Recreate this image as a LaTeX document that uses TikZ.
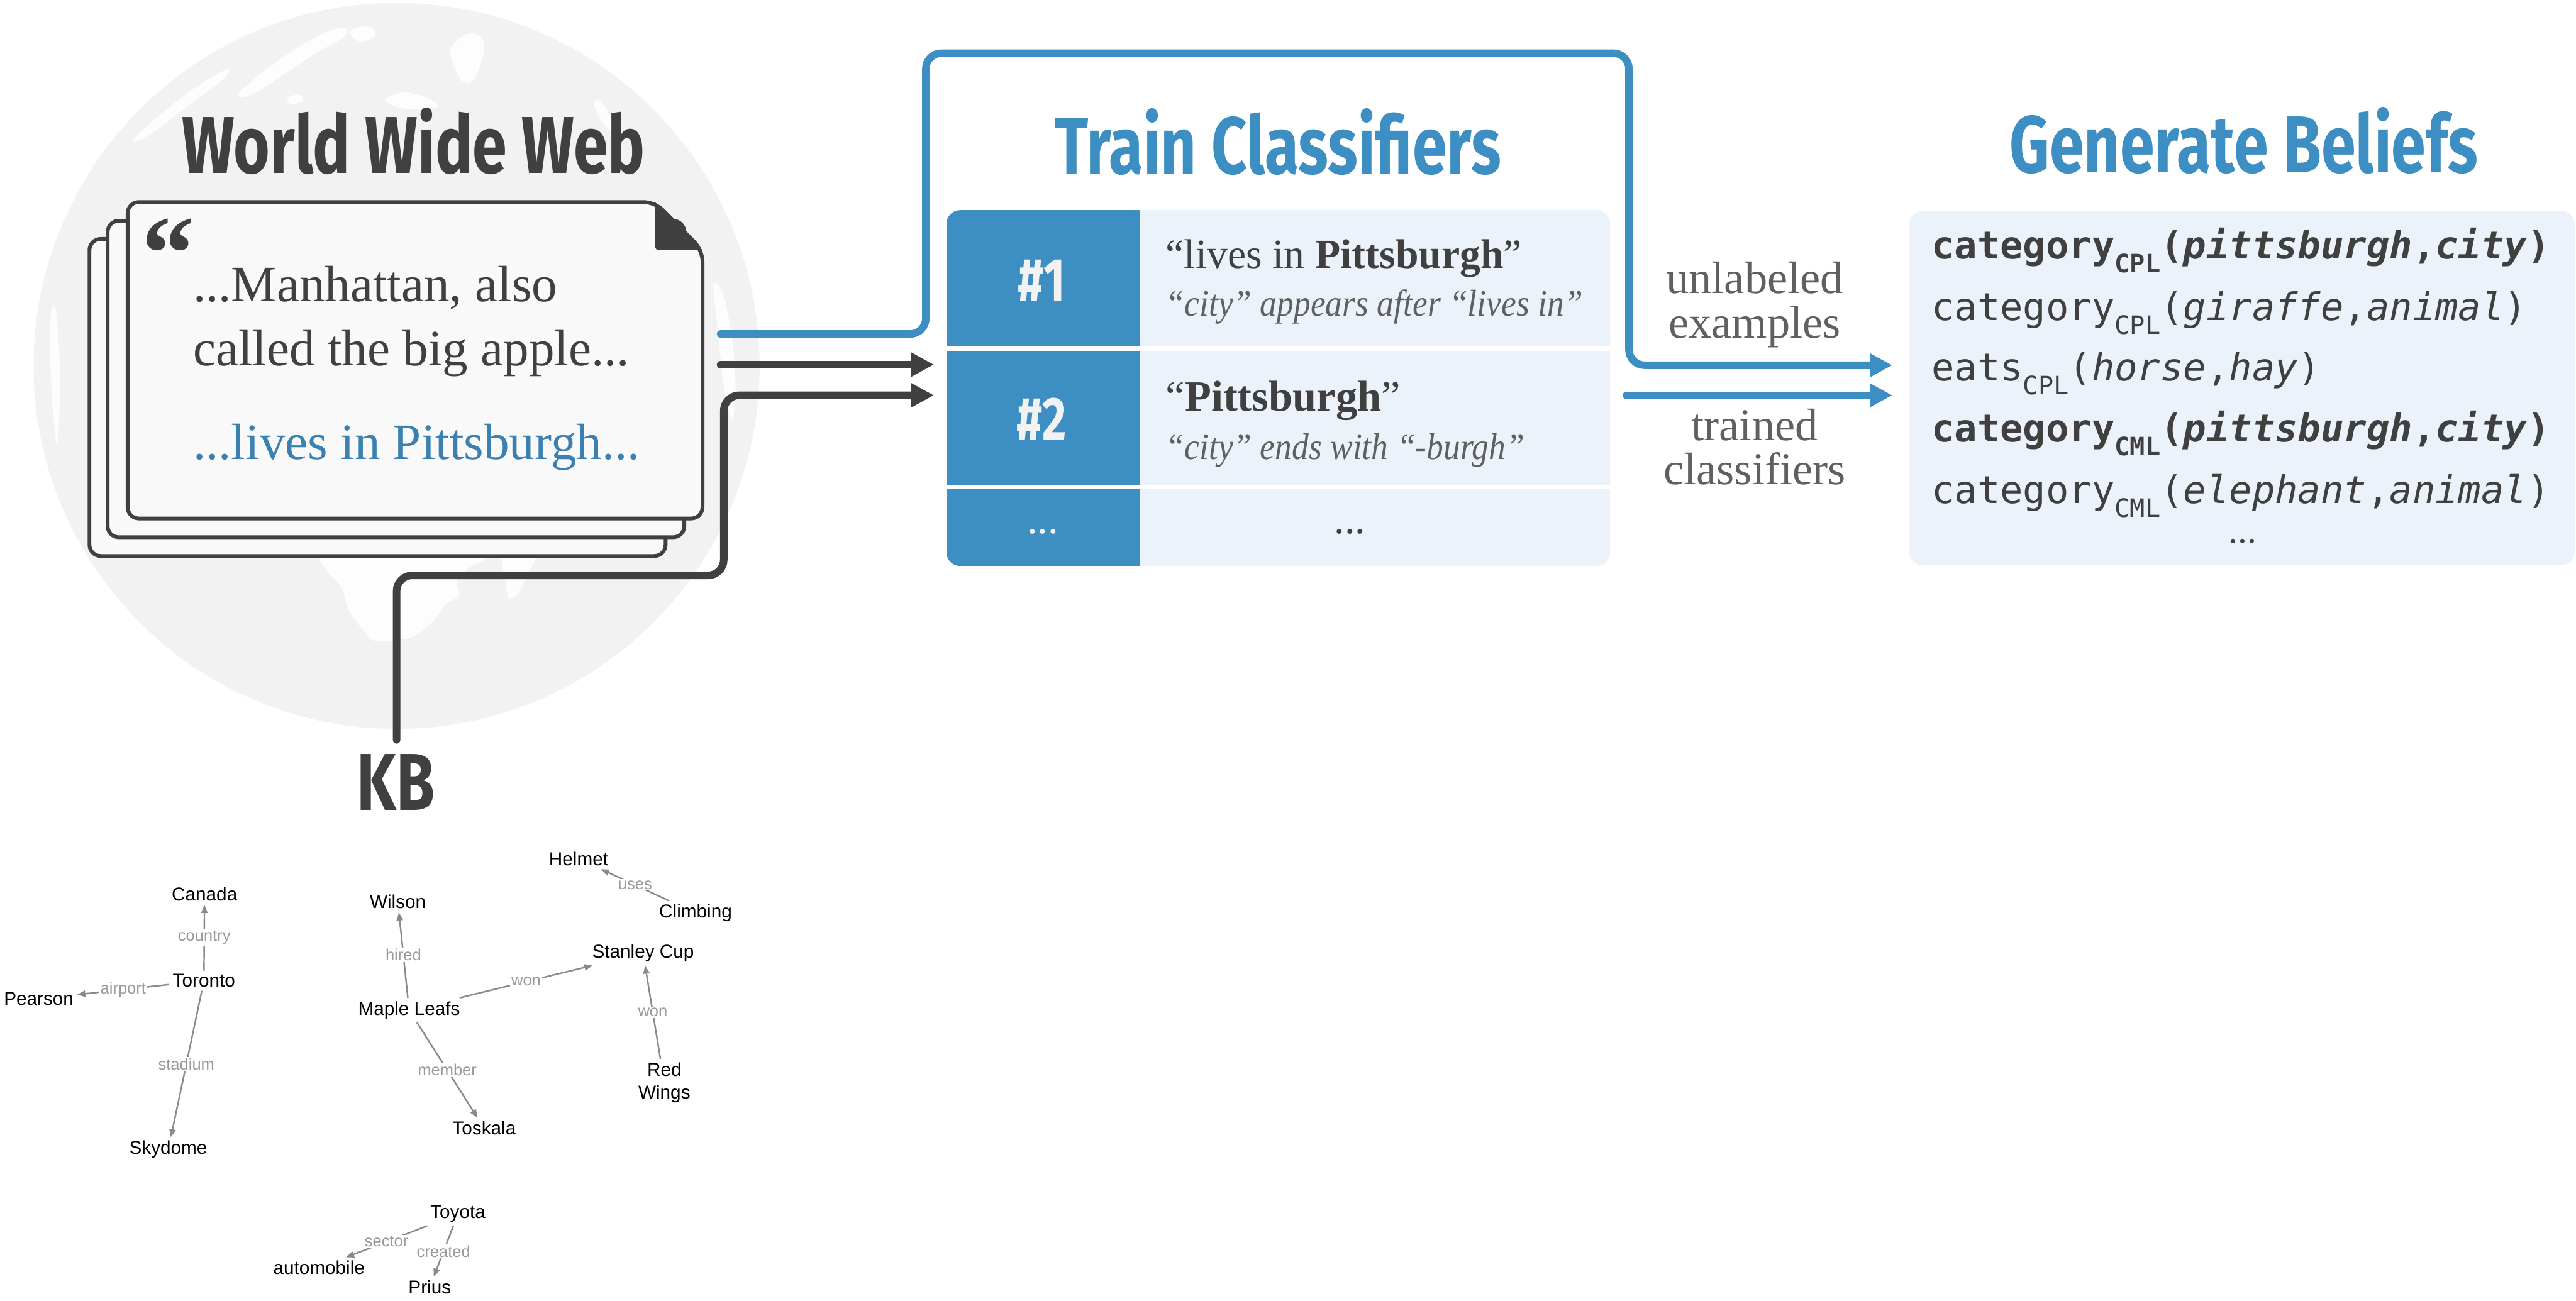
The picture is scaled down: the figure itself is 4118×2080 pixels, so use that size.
\documentclass[tikz,border=0pt]{standalone}
\usepackage{fontspec}
\setmainfont{Liberation Serif}
\newfontfamily\headfont[FakeStretch=0.77]{Fira Sans}
\newfontfamily\slimserif[FakeStretch=0.9]{Liberation Serif}
\newfontfamily\beliefmono{DejaVu Sans Mono}
\newfontfamily\kbfont{Liberation Sans}
\usetikzlibrary{arrows.meta,positioning}

\definecolor{ink}{HTML}{404040}
\definecolor{flowblue}{HTML}{3D8EC2}
\definecolor{textblue}{HTML}{3A80B0}
\definecolor{paleblue}{HTML}{EBF2F9}
\definecolor{globegray}{HTML}{F2F2F2}
\definecolor{cardfill}{HTML}{F9F9F9}
\definecolor{softgray}{HTML}{606060}
\definecolor{kbedgegray}{HTML}{8A8A8A}
\definecolor{kblabelgray}{HTML}{9A9A9A}

% lowered small subscript for the belief sources
\newcommand{\relsub}[1]{\raisebox{-0.36em}{\fontsize{11.5}{12}\selectfont #1}}

\tikzset{
  headline/.style={font=\headfont\bfseries\fontsize{36.7}{40}\selectfont, inner sep=0pt, anchor=base},
  cardtext/.style={font=\fontsize{23.2}{28}\selectfont, text=ink, inner sep=0pt, anchor=base west},
  rowmain/.style={font=\fontsize{18.8}{22}\selectfont, text=ink, inner sep=0pt, anchor=base west},
  rownote/.style={font=\slimserif\itshape\fontsize{17}{20}\selectfont, text=softgray, inner sep=0pt, anchor=base west},
  rowlabel/.style={font=\headfont\bfseries\fontsize{27.6}{30}\selectfont, text=white!95!black, inner sep=0pt},
  flowtext/.style={font=\fontsize{20.7}{20.2}\selectfont, text=softgray, align=center, inner sep=0pt, anchor=base},
  beliefline/.style={font=\beliefmono\fontsize{17.3}{20}\selectfont, text=ink, inner sep=0pt, anchor=base west},
  cardline/.style={draw=ink, line width=0.06cm, fill=cardfill, rounded corners=0.18cm},
  land/.style={fill=white, opacity=0.9},
  flowline/.style={line width=0.12cm, rounded corners=0.25cm, line cap=round},
  blueflow/.style={flowline, draw=flowblue, -{Triangle[length=0.36cm,width=0.36cm]}},
  inkflow/.style={flowline, draw=ink, -{Triangle[length=0.36cm,width=0.36cm]}},
  kbnode/.style={font=\kbfont\fontsize{8.5}{10.5}\selectfont, text=black, align=center, inner sep=0.05cm},
  kbedge/.style={draw=kbedgegray, line width=0.7pt, -{Triangle[length=0.13cm,width=0.1cm]}},
  kblabel/.style={font=\kbfont\fontsize{7.3}{8}\selectfont, text=kblabelgray, fill=white, inner sep=0.02cm, midway}
}

\begin{document}
\begin{tikzpicture}[x=0.01cm, y=-0.01cm]
  \useasboundingbox (0,0) rectangle (4118,2080);

  %Globe
  \fill[globegray] (634,585) circle[radius=5.8cm];
  \begin{scope}
    \clip (634,585) circle[radius=5.8cm];
    \fill[land] plot[smooth cycle, tension=0.6] coordinates
      {(380,152) (420,115) (470,80) (520,52) (552,45) (548,60) (505,85) (455,118) (405,150)};
    \fill[land] plot[smooth cycle, tension=0.6] coordinates
      {(560,50) (590,42) (600,58) (575,66)};
    \fill[land] plot[smooth cycle, tension=0.6] coordinates
      {(720,80) (745,55) (770,60) (772,90) (755,130) (735,125)};
    \fill[land] plot[smooth cycle, tension=0.6] coordinates
      {(212,225) (260,180) (320,135) (365,110) (355,128) (300,170) (240,215)};
    \fill[land] plot[smooth cycle, tension=0.6] coordinates
      {(615,160) (645,148) (680,155) (700,170) (672,174) (638,172)};
    \fill[land] plot[smooth cycle, tension=0.6] coordinates
      {(460,155) (480,152) (484,162) (464,166)};
    \fill[land] plot[smooth cycle, tension=0.6] coordinates
      {(950,165) (960,162) (985,200) (990,212) (975,208) (958,188)};
    \fill[land] plot[smooth cycle, tension=0.5] coordinates
      {(521,880) (547,942) (558,976) (584,1012) (602,1025) (657,1019) (694,992)
       (712,966) (734,952) (730,929) (752,906) (782,880)};
    \fill[land] plot[smooth cycle, tension=0.5] coordinates
      {(804,880) (808,930) (814,956) (828,950) (842,920) (859,880)};
    \fill[land] plot[smooth cycle, tension=0.5] coordinates
      {(1140,455) (1156,470) (1170,540) (1176,620) (1170,672) (1156,610) (1148,530)};
    \fill[land] plot[smooth cycle, tension=0.5] coordinates
      {(82,495) (90,500) (96,600) (92,712) (84,650) (80,560)};
  \end{scope}

  %Web pages
  \draw[cardline] (143,382) rectangle (1064,889);
  \draw[cardline] (172,353) rectangle (1094,859);
  \draw[cardline] (204,323) -- (1047,323) -- (1123,400) -- (1123,829) -- (204,829) -- cycle;
  \fill[ink] (1047,323) -- (1047,385) .. controls (1047,400) .. (1062,400) -- (1123,400) -- cycle;

  \node[headline, text=ink] (webtitle) at (661,277) {World Wide Web};
  \node[font=\bfseries\fontsize{48}{50}\selectfont, text=ink, inner sep=0pt, anchor=base west] (quotemark) at (226,462) {“};
  \node[cardtext] (pageA) at (308,482) {...Manhattan, also};
  \node[cardtext] (pageB) at (308,585) {called the big apple...};
  \node[cardtext, text=textblue] (pageC) at (308,734) {...lives in Pittsburgh...};

  \node[headline, text=ink] (kbtitle) at (633,1295) {KB};

  %Classifier table
  \node[headline, text=flowblue] (traintitle) at (2043,278) {Train Classifiers};
  \fill[paleblue, rounded corners=0.22cm] (1513,336) rectangle (2574,905);
  \begin{scope}
    \clip[rounded corners=0.22cm] (1513,336) rectangle (2574,905);
    \fill[flowblue] (1513,336) rectangle (1822,905);
  \end{scope}
  \fill[white] (1513,554) rectangle (2574,561);
  \fill[white] (1513,775) rectangle (2574,781);

  \node[rowlabel] (numA) at (1665,448) {\#1};
  \node[rowlabel] (numB) at (1665,670) {\#2};
  \node[rowlabel, font=\fontsize{19}{20}\selectfont] (numC) at (1667,850) {...};
  \node[rowmain] (ruleA) at (1863,429) {“lives in \textbf{Pittsburgh}”};
  \node[rownote] (noteA) at (1863,505) {“city” appears after “lives in”};
  \node[rowmain, font=\fontsize{19.6}{22}\selectfont] (ruleB) at (1863,657) {“\textbf{Pittsburgh}”};
  \node[rownote] (noteB) at (1863,734) {“city” ends with “-burgh”};
  \node[rowmain, anchor=center, font=\fontsize{19}{20}\selectfont] (ruleC) at (2158,850) {...};

  %Beliefs
  \node[headline, text=flowblue] (gentitle) at (3587,276) {Generate Beliefs};
  \fill[paleblue, rounded corners=0.22cm] (3052,337) rectangle (4116,904);
  \node[beliefline] (beliefA) at (3087,414)
    {\bfseries category\relsub{CPL}(\textit{pittsburgh},\textit{city})};
  \node[beliefline] (beliefB) at (3087,512)
    {category\relsub{CPL}(\textit{giraffe},\textit{animal})};
  \node[beliefline] (beliefC) at (3087,609)
    {eats\relsub{CPL}(\textit{horse},\textit{hay})};
  \node[beliefline] (beliefD) at (3087,706)
    {\bfseries category\relsub{CML}(\textit{pittsburgh},\textit{city})};
  \node[beliefline] (beliefE) at (3087,805)
    {category\relsub{CML}(\textit{elephant},\textit{animal})};
  \node[beliefline, anchor=center, font=\fontsize{17}{20}\selectfont] (beliefF) at (3585,865) {...};

  % base anchor sits on the last line
  \node[flowtext] (unlabeled) at (2805,540) {unlabeled\\examples};
  \node[flowtext] (trained) at (2805,775) {trained\\classifiers};

  %Flow ends
  \coordinate (webA) at (1152,534);
  \coordinate (webB) at (1152,583);
  \coordinate (kbout) at (634,1183);
  \coordinate (tableA) at (1493,583);
  \coordinate (tableB) at (1493,632);
  \coordinate (tableout) at (2600,632);
  \coordinate (beliefinA) at (3025,584);
  \coordinate (beliefinB) at (3025,632);

  %Lines
  \draw[blueflow] (webA) -- (1480,534) -- (1480,85) -- (2604,85) -- (2604,584) -- (beliefinA);
  \draw[blueflow] (tableout) -- (beliefinB);
  \draw[inkflow] (webB) -- (tableA);
  \draw[inkflow] (kbout) -- (634,920) -- (1157,920) -- (1157,632) -- (tableB);

  %KB graph
  \node[kbnode] (helmet)   at (925,1373)  {Helmet};
  \node[kbnode] (canada)   at (327,1430)  {Canada};
  \node[kbnode] (wilson)   at (636,1442)  {Wilson};
  \node[kbnode] (climbing) at (1112,1460) {Climbing};
  \node[kbnode] (stanley)  at (1028,1524) {Stanley Cup};
  \node[kbnode] (toronto)  at (326,1568)  {Toronto};
  \node[kbnode] (pearson)  at (62,1597)   {Pearson};
  \node[kbnode] (leafs)    at (654,1615)  {Maple Leafs};
  \node[kbnode] (redwings) at (1062,1731) {Red\\Wings};
  \node[kbnode] (skydome)  at (269,1838)  {Skydome};
  \node[kbnode] (toskala)  at (774,1804)  {Toskala};
  \node[kbnode] (toyota)   at (732,1941)  {Toyota};
  \node[kbnode] (auto)     at (510,2027)  {automobile};
  \node[kbnode] (prius)    at (687,2058)  {Prius};

  \draw[kbedge] (toronto) -- node[kblabel] {country} (canada);
  \draw[kbedge] (toronto) -- node[kblabel] {airport} (pearson);
  \draw[kbedge] (toronto) -- node[kblabel] {stadium} (skydome);
  \draw[kbedge] (leafs)   -- node[kblabel] {hired} (wilson);
  \draw[kbedge] (leafs)   -- node[kblabel] {won} (stanley);
  \draw[kbedge] (leafs)   -- node[kblabel] {member} (toskala);
  \draw[kbedge] (redwings) -- node[kblabel] {won} (stanley);
  \draw[kbedge] (climbing) -- node[kblabel] {uses} (helmet);
  \draw[kbedge] (toyota)  -- node[kblabel] {sector} (auto);
  \draw[kbedge] (toyota)  -- node[kblabel] {created} (prius);
\end{tikzpicture}
\end{document}
